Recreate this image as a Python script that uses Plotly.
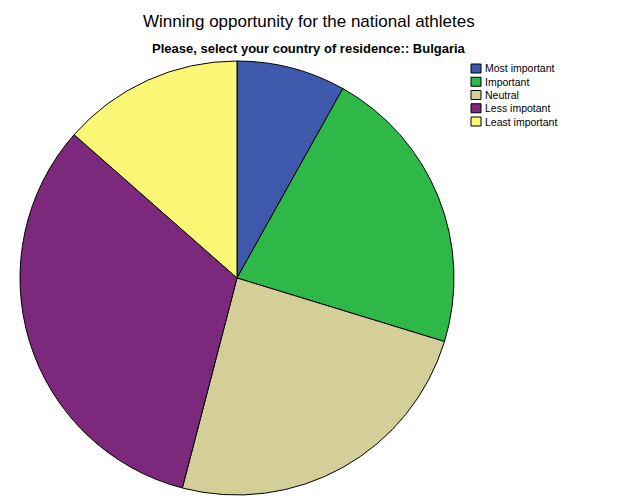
import plotly.graph_objects as go

categories = ["Most important", "Important", "Neutral", "Less impotant", "Least important"]
counts = [3, 8, 9, 12, 5]
colors = ["#3e58ac", "#2eb848", "#d4cf98", "#7b287d", "#fbf875"]

title_text = "Winning opportunity for the national athletes"
subtitle_text = "Please, select your country of residence:: Bulgaria"

W, H = 626, 501
OFF = 8  # page body margin offset
cx, cy, r = 237 - OFF, 278 - OFF, 217

def px(x):
    return (x - OFF) / W

def py(y):
    return 1 - (y - OFF) / H

fig = go.Figure(go.Pie(
    labels=categories, values=counts,
    marker=dict(colors=colors, line=dict(color="#000000", width=1)),
    sort=False, direction="clockwise", rotation=0,
    textinfo="none", hoverinfo="label+value+percent",
    showlegend=False,
    domain=dict(x=[(cx - r) / W, (cx + r) / W], y=[1 - (cy + r) / H, 1 - (cy - r) / H]),
))

annotations = [
    dict(text=title_text, x=px(309), y=py(21), xref="paper", yref="paper",
         showarrow=False, xanchor="center", yanchor="middle",
         font=dict(family="Liberation Sans, Arial", size=17, color="#000000")),
    dict(text="<b>" + subtitle_text + "</b>", x=px(309), y=py(49), xref="paper", yref="paper",
         showarrow=False, xanchor="center", yanchor="middle",
         font=dict(family="Liberation Sans, Arial", size=13, color="#000000")),
]
shapes = []
lx0, ly0, step = 471, 68.5, 13.25
for i, (lab, col) in enumerate(zip(categories, colors)):
    yc = ly0 + i * step
    shapes.append(dict(type="rect", xref="paper", yref="paper",
                       x0=px(lx0), x1=px(lx0 + 10), y0=py(yc + 4.5), y1=py(yc - 4.5),
                       fillcolor=col, line=dict(color="#000000", width=1)))
    annotations.append(dict(text=lab, x=px(lx0 + 12), y=py(yc), xref="paper", yref="paper",
                            showarrow=False, xanchor="left", yanchor="middle",
                            font=dict(family="Liberation Sans, Arial", size=10.5, color="#000000")))

fig.update_layout(
    width=W, height=H, margin=dict(l=0, r=0, t=0, b=0),
    paper_bgcolor="#ffffff", plot_bgcolor="#ffffff",
    annotations=annotations, shapes=shapes,
)
fig.write_html("out.html")
